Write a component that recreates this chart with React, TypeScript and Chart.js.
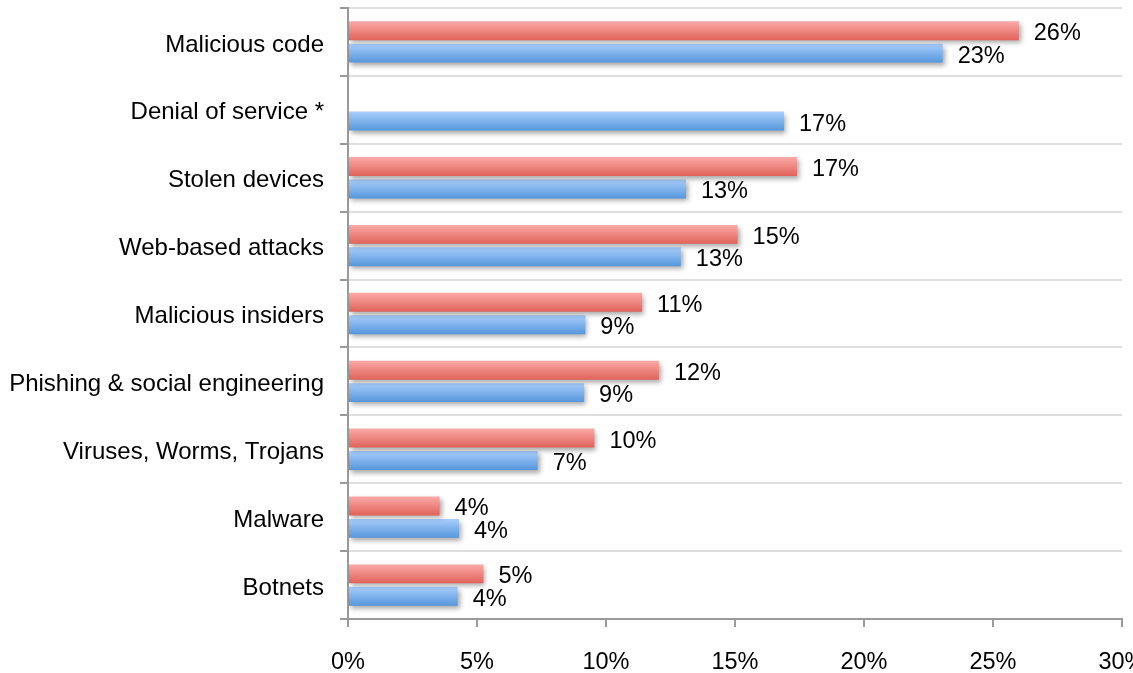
import React, { useEffect, useRef } from "react";
import { Chart, registerables } from "chart.js";

Chart.register(...registerables);

const categories = [
  "Malicious code",
  "Denial of service *",
  "Stolen devices",
  "Web-based attacks",
  "Malicious insiders",
  "Phishing & social engineering",
  "Viruses, Worms, Trojans",
  "Malware",
  "Botnets",
];

const redValues: (number | null)[] = [26, null, 17.4, 15.1, 11.4, 12.05, 9.55, 3.55, 5.25];
const blueValues: (number | null)[] = [23.05, 16.9, 13.1, 12.9, 9.2, 9.15, 7.35, 4.3, 4.25];

const xTicks = [0, 5, 10, 15, 20, 25, 30];

const FONT = '"Liberation Sans", Arial, Helvetica, sans-serif';
const CAT_PCT = 0.66;
const BAR_PCT = 0.845;

const redStops = ["#fcaaa8", "#e0625a"];
const blueStops = ["#aacefc", "#5597dc"];

function gradientFill(stops: string[], fallback: string) {
  return (ctx: any) => {
    const chart = ctx.chart;
    const y = chart.scales && chart.scales.y;
    if (!y || ctx.dataIndex === undefined || !chart.chartArea) return fallback;
    const center = y.getPixelForValue(ctx.dataIndex);
    const cat = (y.bottom - y.top) / categories.length;
    const slot = (cat * CAT_PCT) / 2;
    const thick = slot * BAR_PCT;
    const c = center + (ctx.datasetIndex === 0 ? -slot / 2 : slot / 2);
    const g = chart.ctx.createLinearGradient(0, c - thick / 2, 0, c + thick / 2);
    g.addColorStop(0, stops[0]);
    g.addColorStop(1, stops[1]);
    return g;
  };
}

const shadowPlugin = {
  id: "barShadow",
  beforeDatasetsDraw(chart: any) {
    const ctx = chart.ctx;
    ctx.save();
    ctx.shadowColor = "rgba(0,0,0,0.35)";
    ctx.shadowBlur = 5;
    ctx.shadowOffsetX = 2;
    ctx.shadowOffsetY = 3;
  },
  afterDatasetsDraw(chart: any) {
    chart.ctx.restore();
  },
};

const labelPlugin = {
  id: "valueLabels",
  afterDraw(chart: any) {
    const ctx = chart.ctx;
    ctx.save();
    ctx.font = `23.5px ${FONT}`;
    ctx.fillStyle = "#000";
    ctx.textAlign = "left";
    ctx.textBaseline = "middle";
    chart.data.datasets.forEach((ds: any, di: number) => {
      const meta = chart.getDatasetMeta(di);
      meta.data.forEach((el: any, i: number) => {
        const v = ds.data[i];
        if (v === null || v === undefined) return;
        ctx.fillText(Math.round(v) + "%", el.x + 15, el.y + 3);
      });
    });
    ctx.restore();
  },
};

export default function App() {
  const ref = useRef<HTMLCanvasElement | null>(null);
  useEffect(() => {
    if (!ref.current) return;
    const chart = new Chart(ref.current, {
      type: "bar",
      data: {
        labels: categories,
        datasets: [
          {
            label: "Red",
            data: redValues,
            backgroundColor: gradientFill(redStops, redStops[1]),
            categoryPercentage: CAT_PCT,
            barPercentage: BAR_PCT,
            borderWidth: 0,
          },
          {
            label: "Blue",
            data: blueValues,
            backgroundColor: gradientFill(blueStops, blueStops[1]),
            categoryPercentage: CAT_PCT,
            barPercentage: BAR_PCT,
            borderWidth: 0,
          },
        ],
      },
      options: {
        indexAxis: "y",
        responsive: false,
        animation: false,
        devicePixelRatio: 1,
        layout: { padding: { top: 8, left: 0, right: 11, bottom: 0 } },
        plugins: { legend: { display: false }, tooltip: { enabled: false } },
        scales: {
          x: {
            type: "linear",
            min: xTicks[0],
            max: xTicks[xTicks.length - 1],
            afterBuildTicks: (s: any) => {
              s.ticks = xTicks.map((v) => ({ value: v }));
            },
            afterFit: (s: any) => {
              s.height = 54;
              s.paddingLeft = 0;
              s.paddingRight = 0;
            },
            ticks: {
              padding: 21,
              color: "#000",
              font: { family: FONT, size: 23.5 },
              callback: (v: any) => v + "%",
              maxRotation: 0,
            },
            grid: {
              drawOnChartArea: false,
              tickLength: 8,
              tickColor: "#9a9a9a",
              tickWidth: 2,
              lineWidth: 2,
            },
            border: { color: "#9a9a9a", width: 2 },
          },
          y: {
            type: "category",
            offset: true,
            afterFit: (s: any) => {
              s.width = 348;
              s.paddingTop = 0;
              s.paddingBottom = 0;
            },
            ticks: {
              padding: 16,
              labelOffset: 3,
              color: "#000",
              font: { family: FONT, size: 24 },
            },
            grid: {
              offset: true,
              color: "#dedede",
              lineWidth: 2,
              tickLength: 8,
              tickColor: "#9a9a9a",
              tickWidth: 2,
            },
            border: { color: "#9a9a9a", width: 2 },
          },
        },
      },
      plugins: [shadowPlugin, labelPlugin],
    } as any);
    return () => chart.destroy();
  }, []);
  return (
    <div
      style={{
        position: "fixed",
        left: 0,
        top: 0,
        width: 1133,
        height: 673,
        overflow: "hidden",
        background: "#fff",
      }}
    >
      <canvas ref={ref} width={1133} height={673} style={{ display: "block" }} />
    </div>
  );
}
